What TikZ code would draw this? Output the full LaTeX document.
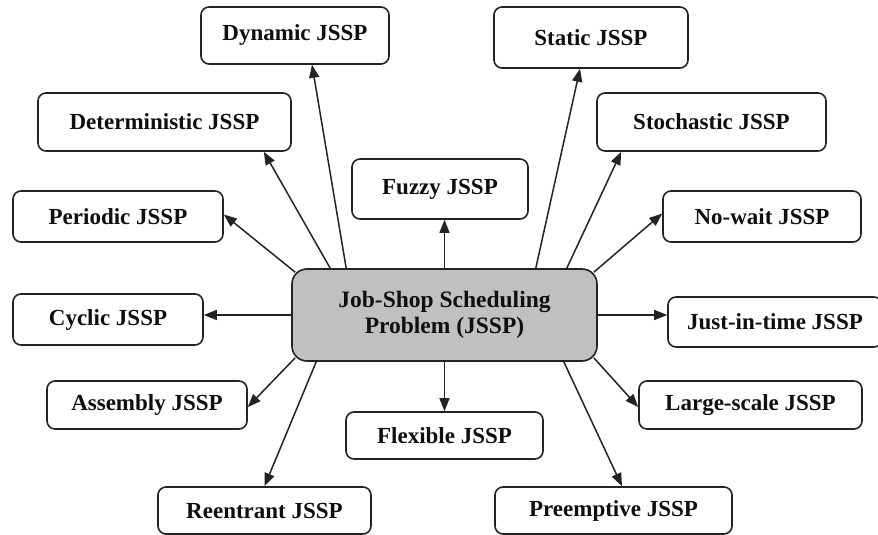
\documentclass[tikz,border=0pt]{standalone}
\usepackage{fontspec}
\setmainfont{Liberation Serif}
\usetikzlibrary{arrows.meta,calc}
\definecolor{edgec}{RGB}{35,35,35}
\definecolor{hubfill}{RGB}{192,192,192}
\definecolor{ink}{RGB}{15,15,15}
\begin{document}
\begin{tikzpicture}[x=1pt,y=-1pt,
  box/.style={draw=edgec,line width=1.6pt,rounded corners=8pt,fill=white,inner sep=0pt,text=ink,font=\fontsize{23}{26}\selectfont\bfseries},
  hub/.style={box,fill=hubfill,rounded corners=15pt,align=center,font=\fontsize{23.5}{26}\selectfont\bfseries},
  arr/.style={draw=edgec,line width=1.5pt,-{Triangle[length=13pt,width=10pt]}}]
\useasboundingbox (0,0) rectangle (878,535);
\node[box,minimum width=188pt,minimum height=57pt] (dyn) at (295,35.5) {Dynamic JSSP};
\node[box,minimum width=194pt,minimum height=61pt] (stat) at (591,37.5) {Static JSSP};
\node[box,minimum width=253pt,minimum height=58pt] (det) at (164.5,122) {Deterministic JSSP};
\node[box,minimum width=229pt,minimum height=58pt] (stoch) at (711.5,122) {Stochastic JSSP};
\node[box,minimum width=176pt,minimum height=60pt] (fuzzy) at (440,189) {Fuzzy JSSP};
\node[box,minimum width=210pt,minimum height=51pt] (per) at (118,216.5) {Periodic JSSP};
\node[box,minimum width=198pt,minimum height=51pt] (nw) at (762,216.5) {No-wait JSSP};
\node[hub,minimum width=305pt,minimum height=92pt] (hub) at (444.5,315) {Job-Shop Scheduling\\Problem (JSSP)};
\node[box,minimum width=190pt,minimum height=51pt] (cyc) at (108,319.5) {Cyclic JSSP};
\node[box,minimum width=214pt,minimum height=50pt] (jit) at (775,322) {Just-in-time JSSP};
\node[box,minimum width=200pt,minimum height=48pt] (asm) at (147,405) {Assembly JSSP};
\node[box,minimum width=223pt,minimum height=48pt] (ls) at (750.5,405) {Large-scale JSSP};
\node[box,minimum width=197pt,minimum height=47pt] (flex) at (444.5,435.5) {Flexible JSSP};
\node[box,minimum width=213pt,minimum height=47pt] (re) at (264.5,510.5) {Reentrant JSSP};
\node[box,minimum width=237pt,minimum height=47pt] (pre) at (613.5,510.5) {Preemptive JSSP};
\draw[arr] ($(hub.north west)+(4,4)$) -- ($(per.east)+(0,-2)$);
\draw[arr] ($(hub.north west)+(39,0)$) -- ($(det.south east)+(-28,0)$);
\draw[arr] ($(hub.north west)+(55,0)$) -- ($(dyn.south)+(17,0)$);
\draw[arr] (hub.north) -- (hub.north |- fuzzy.south);
\draw[arr] ($(hub.north east)+(-62,0)$) -- ($(stat.south)+(-11,0)$);
\draw[arr] ($(hub.north east)+(-31,0)$) -- ($(stoch.south west)+(25,0)$);
\draw[arr] ($(hub.north east)+(-4,4)$) -- ($(nw.west)+(0,-3)$);
\draw[arr] (hub.east) -- (hub.east -| jit.west);
\draw[arr] (hub.west) -- (hub.west -| cyc.east);
\draw[arr] (hub.south) -- (hub.south |- flex.north);
\draw[arr] ($(hub.south west)+(4,-4)$) -- ($(asm.east)+(0,2)$);
\draw[arr] ($(hub.south west)+(25,0)$) -- (re.north);
\draw[arr] ($(hub.south east)+(-34,0)$) -- ($(pre.north)+(8.5,0)$);
\draw[arr] ($(hub.south east)+(-4,-4)$) -- ($(ls.west)+(0,2)$);
\end{tikzpicture}
\end{document}
